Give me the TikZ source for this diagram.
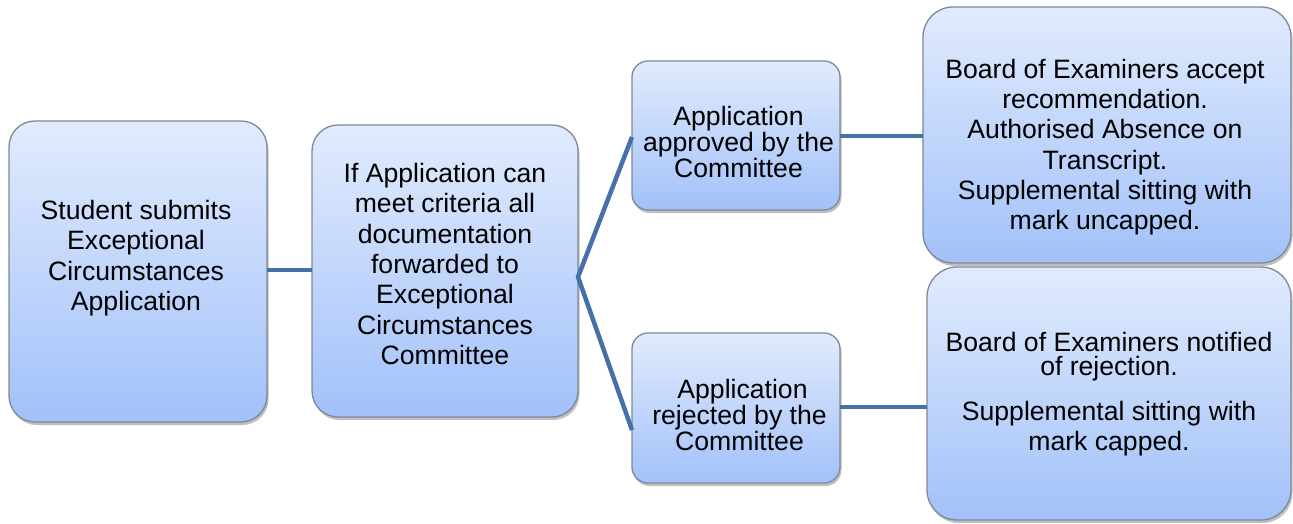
\documentclass[tikz,border=0pt]{standalone}
\usepackage{fontspec}
\setmainfont{Liberation Sans}
\usetikzlibrary{shadows,calc}
\definecolor{boxtop}{HTML}{E1EBFD}
\definecolor{boxbot}{HTML}{A2C1F9}
\definecolor{boxline}{HTML}{7F8896}
\definecolor{conn}{HTML}{4671A8}
\begin{document}
\begin{tikzpicture}[x=1pt,y=-1pt,
  box/.style={draw=boxline, line width=1.3pt, top color=boxtop, bottom color=boxbot,
    inner sep=0pt, outer sep=0pt,
    drop shadow={shadow xshift=1.5pt, shadow yshift=-3pt, opacity=0.25, fill=black}},
  bigbox/.style={box, rounded corners=26pt},
  smallbox/.style={box, rounded corners=16pt},
  txt/.style={align=center, inner sep=0pt, font=\fontsize{26.6}{30.3}\selectfont},
  tighttxt/.style={align=center, inner sep=0pt, font=\fontsize{26.6}{22.5}\selectfont},
  connector/.style={draw=conn, line width=4.5pt}]
\useasboundingbox (0,0) rectangle (1293,524);
% boxes
\node[bigbox, minimum width=258pt, minimum height=301pt] (a) at (138,271.5) {};
\node[bigbox, minimum width=266pt, minimum height=292pt] (b) at (445,271) {};
\node[smallbox, minimum width=208pt, minimum height=149pt] (c) at (736,135.5) {};
\node[smallbox, minimum width=208pt, minimum height=150pt] (d) at (736,408) {};
\node[bigbox, rounded corners=30pt, minimum width=368pt, minimum height=256pt] (e) at (1107,135) {};
\node[bigbox, rounded corners=30pt, minimum width=364pt, minimum height=253pt] (f) at (1109,393.5) {};
% texts
\node[txt] (ta) at (136,258) {Student submits\\Exceptional\\Circumstances\\Application};
\node[txt] (tb) at (445,264) {If Application can\\meet criteria all\\documentation\\forwarded to\\Exceptional\\Circumstances\\Committee};
\node[tighttxt] (tc) at (738.5,142) {Application\\approved by the\\Committee};
\node[tighttxt] (td) at (739.5,415) {\hspace*{6pt}Application\\rejected by the\\Committee};
\node[txt] (te) at (1105,147) {Board of Examiners accept\\recommendation.\\Authorised Absence on\\Transcript.\\Supplemental sitting with\\mark uncapped.};
\node[align=center, inner sep=0pt, font=\fontsize{26.6}{24}\selectfont] (tf) at (1109,394)
  {Board of Examiners notified\\of rejection.\hspace*{78pt}\\[19pt]Supplemental sitting with\\[4pt]mark capped.};
% connectors
\coordinate (fork) at (578,277);
\draw[connector] (a.east |- 0,270) -- (b.west |- 0,270);
\draw[connector, line join=miter] (c.west |- 0,137) -- (fork) -- (d.west |- 0,430);
\draw[connector] (c.east |- 0,136) -- (e.west |- 0,136);
\draw[connector] (d.east |- 0,407) -- (f.west |- 0,407);
\end{tikzpicture}
\end{document}
